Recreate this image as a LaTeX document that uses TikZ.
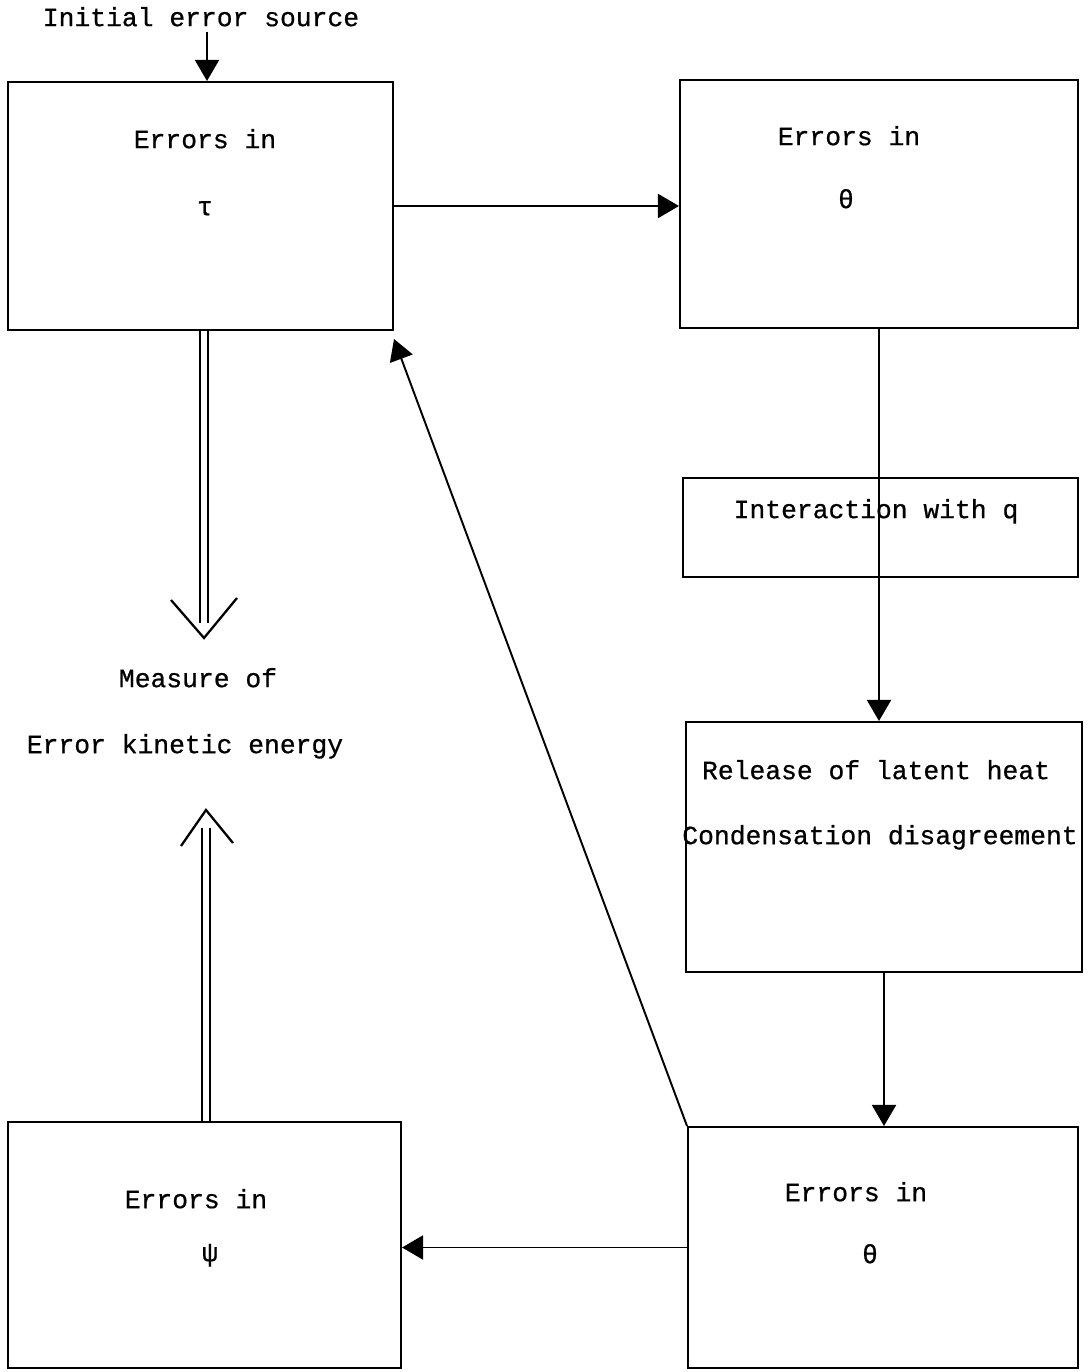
\documentclass[tikz,border=0pt]{standalone}
\usepackage{fontspec}
\setmainfont{Liberation Mono}[FakeBold=0.7]
\usetikzlibrary{arrows.meta,
    positioning}
\tikzset{
  box/.style={rectangle, draw, line width=1.2pt, inner sep=0pt},
  lbl/.style={font=\fontsize{15}{18}\selectfont, inner sep=0pt, text height=10pt, text depth=3pt},
  arr/.style={line width=1.1pt, -{Triangle[length=0.42cm, width=0.48cm]}},
  dbl/.style={double, line width=0.9pt, double distance=0.12cm},
  vhead/.style={line width=1.3pt},
  }
\begin{document}
\begin{tikzpicture}[x=0.02cm, y=-0.02cm]
  \useasboundingbox (0,0) rectangle (1091,1372);
  % boxes, placed at pixel coordinates
  \node [box, minimum width=7.70cm, minimum height=4.96cm] (tau)     at (200.5,206)  {};
  \node [box, minimum width=7.96cm, minimum height=4.96cm] (thetaA)  at (879,204)    {};
  \node [box, minimum width=7.90cm, minimum height=1.98cm] (inter)   at (880.5,527.5) {};
  \node [box, minimum width=7.92cm, minimum height=5.00cm] (release) at (884,847)    {};
  \node [box, minimum width=7.80cm, minimum height=4.82cm] (thetaB)  at (883,1247.5) {};
  \node [box, minimum width=7.86cm, minimum height=4.92cm] (psi)     at (204.5,1245) {};

  % texts
  \node [lbl] (src)       at (201,20)   {Initial error source};
  \node [lbl] (tauhead)   at (205,142)  {Errors in};
  \node [lbl] (tausym)    at (205,209)  {τ};
  \node [lbl] (thAhead)   at (849,139)  {Errors in};
  \node [lbl] (thAsym)    at (846,202)  {θ};
  \node [lbl] (intertext) at (876,512)  {Interaction with q};
  \node [lbl] (reltextA)  at (876,773)  {Release of latent heat};
  \node [lbl] (reltextB)  at (880,838)  {Condensation disagreement};
  \node [lbl] (measureA)  at (198,681)  {Measure of};
  \node [lbl] (measureB)  at (185,747)  {Error kinetic energy};
  \node [lbl] (psihead)   at (196,1202) {Errors in};
  \node [lbl] (psisym)    at (210,1255) {ψ};
  \node [lbl] (thBhead)   at (856,1195) {Errors in};
  \node [lbl] (thBsym)    at (870,1257) {θ};

  % single arrows
  \draw [arr] ([xshift=0.12cm]src.south) -- ([xshift=0.12cm]src.south |- tau.north);
  \draw [arr] (tau.east) -- (tau.east -| thetaA.west);
  \draw [arr] (thetaA.south) -- (thetaA.south |- release.north);
  \draw [arr] (release.south) -- (release.south |- thetaB.north);
  \draw [arr] (thetaB.west) -- (thetaB.west -| psi.east);
  \draw [arr] (thetaB.north west) -- ([shift={(0,8)}]tau.south east);

  % double arrows to the kinetic energy
  \coordinate (downtip) at (204,638);
  \coordinate (uptip)   at (206,810);
  \draw [dbl] (tau.south -| downtip) -- ([yshift=0.3cm]downtip);
  \draw [vhead] ([shift={(-33,-38)}]downtip) -- (downtip) -- ([shift={(33,-40)}]downtip);
  \draw [dbl] (psi.north -| uptip) -- ([yshift=-0.36cm]uptip);
  \draw [vhead] ([shift={(-25,36)}]uptip) -- (uptip) -- ([shift={(27,33)}]uptip);
\end{tikzpicture}
\end{document}
